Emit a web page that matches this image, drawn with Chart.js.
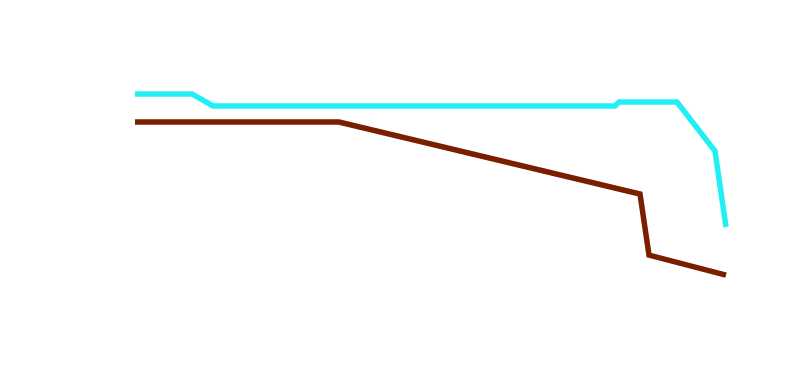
<!DOCTYPE html>
<html>
<head>
<meta charset="utf-8">
<script src="https://cdn.jsdelivr.net/npm/chart.js@4/dist/chart.umd.min.js"></script>
<style>
html,body{margin:0;padding:0;background:#fff;}
#wrap{width:787px;height:367px;}
</style>
</head>
<body>
<div id="wrap"><canvas id="c" width="787" height="367"></canvas></div>
<script>
const cyanX = [0, 57, 78, 480, 484, 542, 580, 591];
const cyanY = [77.4, 77.4, 73.7, 73.7, 74.9, 74.9, 59.9, 36.7];
const brownX = [0, 204, 505, 514, 591];
const brownY = [68.8, 68.8, 46.8, 28.1, 22.0];

const toPts = (xs, ys) => xs.map((x, i) => ({x: x, y: ys[i]}));

new Chart(document.getElementById('c'), {
  type: 'scatter',
  data: {
    datasets: [
      {data: toPts(cyanX, cyanY), showLine: true, clip: false, borderColor: '#22eef6', borderWidth: 5.5, pointRadius: 0, borderJoinStyle: 'miter', tension: 0, fill: false},
      {data: toPts(brownX, brownY), showLine: true, clip: false, borderColor: '#7a1e00', borderWidth: 5.5, pointRadius: 0, borderJoinStyle: 'miter', tension: 0, fill: false}
    ]
  },
  options: {
    responsive: false,
    animation: false,
    layout: {padding: {left: 135, right: 61, top: 20, bottom: 20}},
    plugins: {legend: {display: false}, tooltip: {enabled: false}},
    scales: {
      x: {type: 'linear', min: 0, max: 591, display: false},
      y: {type: 'linear', min: 0, max: 100, display: false}
    }
  }
});
</script>
</body>
</html>
